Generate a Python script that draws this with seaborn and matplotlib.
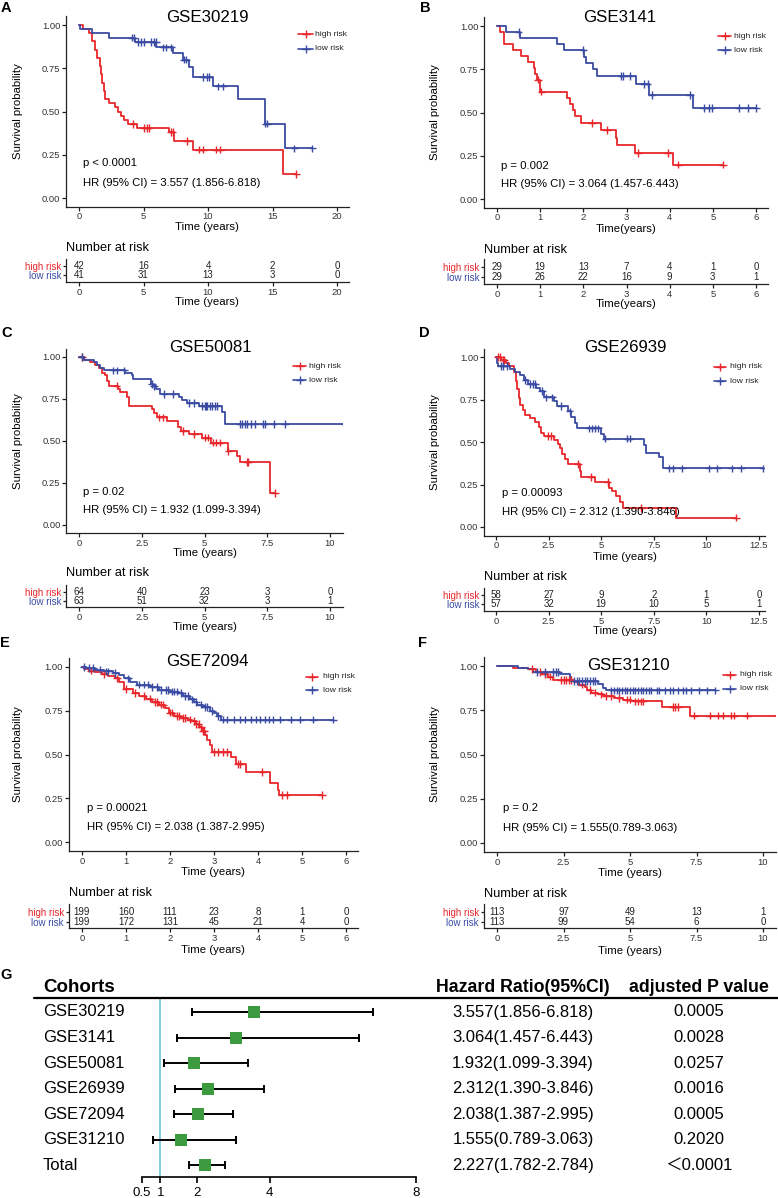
import numpy as np
import pandas as pd
import matplotlib
matplotlib.use("Agg")
import matplotlib.pyplot as plt
import seaborn as sns
from matplotlib.lines import Line2D

# ---------------- colours ----------------
RED = "#E8262B"
BLUE = "#3A4BA3"
GREEN = "#3D9A3F"
CYAN = "#72C8D8"
PAL = {"high risk": RED, "low risk": BLUE}

# ---------------- KM data ----------------
# Panel A GSE30219
A_high_t = [0.3, 0.8, 1.0, 1.25, 1.4, 1.6, 1.7, 1.82, 1.9, 2.05, 2.3, 2.8, 3.0, 3.25, 3.45, 3.8, 4.5, 6.95, 7.35, 8.85, 15.85]
A_high_s = [0.976, 0.952, 0.905, 0.857, 0.81, 0.762, 0.714, 0.667, 0.619, 0.571, 0.548, 0.524, 0.50, 0.476, 0.452, 0.429, 0.405, 0.38, 0.33, 0.28, 0.14]
A_high_c = [4.2, 5.0, 5.25, 5.4, 7.1, 7.25, 8.35, 9.3, 9.65, 10.6, 10.95, 16.85]
A_low_t = [0.1, 1.0, 2.3, 4.35, 6.0, 7.3, 8.05, 8.5, 8.8, 10.4, 12.35, 14.4, 16.0]
A_low_s = [0.976, 0.951, 0.927, 0.903, 0.87, 0.84, 0.80, 0.76, 0.70, 0.645, 0.575, 0.43, 0.287]
A_low_c = [4.1, 4.3, 4.6, 4.8, 5.0, 5.6, 5.8, 5.95, 6.5, 6.75, 7.15, 8.15, 8.3, 9.6, 9.9, 10.1, 10.8, 11.2, 14.45, 14.6, 16.7, 18.1]

# Panel B GSE3141
B_high_t = [0.08, 0.16, 0.37, 0.56, 0.72, 0.85, 0.88, 0.92, 1.0, 1.62, 1.68, 1.75, 1.8, 1.95, 2.4, 2.75, 2.78, 3.2, 4.07]
B_high_s = [0.966, 0.897, 0.862, 0.828, 0.793, 0.759, 0.724, 0.690, 0.621, 0.586, 0.552, 0.517, 0.479, 0.441, 0.398, 0.354, 0.310, 0.265, 0.199]
B_high_c = [0.95, 1.03, 2.2, 2.55, 3.27, 3.95, 4.2, 5.23]
B_low_t = [0.22, 0.54, 1.4, 1.55, 2.02, 2.06, 2.22, 2.32, 3.23, 3.53, 4.55]
B_low_s = [0.966, 0.931, 0.897, 0.862, 0.82, 0.785, 0.749, 0.71, 0.665, 0.60, 0.525]
B_low_c = [0.5, 2.0, 2.88, 2.92, 3.08, 3.4, 3.49, 3.58, 4.47, 4.8, 4.9, 4.97, 5.6, 5.82, 6.0]

# Panel C GSE50081
C_high_t = [0.2, 0.45, 0.65, 0.78, 0.92, 1.05, 1.12, 1.2, 1.55, 1.62, 1.9, 1.98, 2.9, 2.98, 3.1, 3.5, 3.95, 4.05, 4.4, 4.9, 5.25, 5.95, 6.3, 6.4, 7.6]
C_high_s = [0.984, 0.968, 0.952, 0.935, 0.905, 0.89, 0.86, 0.83, 0.81, 0.79, 0.76, 0.71, 0.69, 0.665, 0.64, 0.62, 0.585, 0.56, 0.54, 0.52, 0.49, 0.44, 0.41, 0.375, 0.19]
C_high_c = [0.12, 1.5, 3.2, 3.35, 4.15, 4.6, 5.0, 5.15, 5.35, 5.45, 5.6, 5.95, 6.7, 6.75, 7.82]
C_low_t = [0.2, 0.6, 0.7, 0.85, 1.0, 1.85, 2.1, 2.15, 2.85, 2.95, 3.05, 3.24, 4.0, 4.1, 4.3, 4.8, 5.7, 5.8]
C_low_s = [0.984, 0.968, 0.952, 0.935, 0.92, 0.905, 0.89, 0.87, 0.84, 0.825, 0.81, 0.78, 0.76, 0.745, 0.725, 0.71, 0.67, 0.60]
C_low_c = [0.1, 1.35, 1.5, 1.8, 2.9, 3.0, 3.4, 3.75, 4.4, 4.6, 4.9, 5.0, 5.05, 5.1, 5.2, 5.3, 5.4, 5.5, 6.4, 6.5, 6.6, 6.7, 6.85, 7.0, 7.35, 7.4, 7.75, 8.2, 10.6]

# Panel D GSE26939
D_high_t = [0.25, 0.48, 0.63, 0.87, 0.93, 1.0, 1.07, 1.15, 1.27, 1.4, 1.6, 1.83, 2.03, 2.14, 2.3, 2.78, 2.94, 3.06, 3.12, 3.29, 3.41, 4.0, 4.06, 4.71, 5.37, 5.5, 5.71, 5.87, 6.03, 8.55]
D_high_s = [0.983, 0.966, 0.948, 0.91, 0.86, 0.81, 0.76, 0.72, 0.69, 0.66, 0.64, 0.62, 0.59, 0.555, 0.535, 0.51, 0.49, 0.465, 0.43, 0.40, 0.37, 0.33, 0.295, 0.265, 0.23, 0.21, 0.18, 0.15, 0.11, 0.055]
D_high_c = [0.1, 0.2, 0.35, 0.4, 2.45, 2.6, 3.9, 4.5, 5.3, 6.9, 11.4]
D_low_t = [0.05, 0.1, 0.65, 0.9, 1.15, 1.35, 1.5, 1.9, 2.1, 2.3, 2.75, 2.9, 3.4, 3.55, 3.75, 3.85, 5.0, 5.15, 7.05, 7.15, 7.75, 7.95]
D_low_s = [0.965, 0.947, 0.93, 0.912, 0.895, 0.865, 0.84, 0.82, 0.80, 0.762, 0.74, 0.71, 0.68, 0.645, 0.61, 0.58, 0.545, 0.52, 0.48, 0.435, 0.41, 0.345]
D_low_c = [0.25, 0.35, 0.5, 1.4, 1.6, 1.75, 1.85, 2.2, 2.4, 2.65, 3.1, 3.5, 4.4, 4.55, 4.7, 4.85, 5.2, 6.25, 6.35, 8.2, 8.4, 8.85, 10.1, 10.5, 11.2, 11.65, 12.7]

# Panel E GSE72094
E_high_t = [0.05, 0.15, 0.3, 0.45, 0.6, 0.75, 0.85, 0.95, 1.15, 1.3, 1.45, 1.6, 1.75, 1.88, 1.97, 2.1, 2.25, 2.4, 2.5, 2.58, 2.66, 2.72, 2.8, 2.85, 2.9, 2.95, 3.38, 3.5, 3.73, 4.27, 4.45, 4.48]
E_high_s = [0.99, 0.98, 0.97, 0.96, 0.95, 0.935, 0.915, 0.875, 0.85, 0.835, 0.82, 0.80, 0.785, 0.765, 0.74, 0.72, 0.71, 0.70, 0.69, 0.675, 0.655, 0.635, 0.61, 0.585, 0.555, 0.515, 0.485, 0.445, 0.40, 0.34, 0.30, 0.27]
E_high_c = [0.2, 0.5, 0.8, 1.0, 1.2, 1.4, 1.55, 1.65, 1.7, 1.8, 1.85, 2.0, 2.05, 2.15, 2.2, 2.3, 2.35, 2.45, 2.55, 2.6, 2.65, 2.7, 2.75, 2.78, 3.0, 3.1, 3.2, 3.3, 3.55, 3.6, 4.1, 4.55, 4.65, 5.45]
E_low_t = [0.1, 0.3, 0.5, 0.7, 0.85, 0.95, 1.1, 1.25, 1.55, 1.75, 2.0, 2.2, 2.3, 2.45, 2.55, 2.62, 2.75, 2.9, 3.0, 3.07, 3.15]
E_low_s = [0.995, 0.985, 0.975, 0.965, 0.955, 0.935, 0.915, 0.90, 0.885, 0.87, 0.86, 0.85, 0.835, 0.815, 0.80, 0.785, 0.77, 0.75, 0.735, 0.72, 0.70]
E_low_c = [0.05, 0.15, 0.25, 0.4, 0.55, 0.6, 0.75, 1.05, 1.3, 1.4, 1.5, 1.6, 1.7, 1.8, 1.9, 1.95, 2.05, 2.1, 2.15, 2.25, 2.35, 2.4, 2.5, 2.6, 2.7, 2.8, 2.85, 2.95, 3.1, 3.2, 3.3, 3.45, 3.6, 3.7, 3.85, 3.95, 4.05, 4.15, 4.25, 4.35, 4.5, 4.75, 4.95, 5.25, 5.7]

# Panel F GSE31210
F_high_t = [0.6, 1.15, 1.48, 1.67, 1.92, 2.1, 2.9, 3.1, 3.3, 3.4, 3.55, 3.8, 4.0, 4.4, 4.75, 5.05, 6.2, 7.25]
F_high_s = [0.991, 0.982, 0.965, 0.955, 0.94, 0.92, 0.91, 0.895, 0.88, 0.865, 0.85, 0.84, 0.83, 0.82, 0.81, 0.80, 0.77, 0.72]
F_high_c = [1.3, 1.6, 1.8, 2.0, 2.4, 2.5, 2.6, 2.7, 2.8, 3.2, 3.5, 3.7, 3.9, 4.1, 4.3, 4.6, 4.9, 5.0, 5.2, 5.3, 5.4, 5.5, 6.6, 6.7, 6.8, 7.4, 8.0, 8.3, 8.5, 8.8, 8.9, 9.4, 10.6]
F_low_t = [0.8, 1.15, 1.35, 2.35, 2.75, 2.8, 3.8, 4.0, 4.1]
F_low_s = [0.991, 0.982, 0.965, 0.955, 0.94, 0.915, 0.90, 0.875, 0.862]
F_low_c = [1.5, 1.8, 2.1, 2.2, 2.3, 2.9, 3.0, 3.1, 3.2, 3.3, 3.4, 3.5, 3.6, 3.7, 4.3, 4.4, 4.5, 4.6, 4.7, 4.8, 4.9, 5.0, 5.1, 5.2, 5.3, 5.4, 5.5, 5.6, 5.7, 5.8, 6.0, 6.1, 6.3, 6.5, 6.6, 6.8, 7.0, 7.1, 7.3, 7.6, 7.9, 8.2]

# ---------------- risk tables ----------------
A_risk_t = [0, 5, 10, 15, 20]
A_risk_high = [42, 16, 4, 2, 0]
A_risk_low = [41, 31, 13, 3, 0]
B_risk_t = [0, 1, 2, 3, 4, 5, 6]
B_risk_high = [29, 19, 13, 7, 4, 1, 0]
B_risk_low = [29, 26, 22, 16, 9, 3, 1]
C_risk_t = [0, 2.5, 5, 7.5, 10]
C_risk_high = [64, 40, 23, 3, 0]
C_risk_low = [63, 51, 32, 3, 1]
D_risk_t = [0, 2.5, 5, 7.5, 10, 12.5]
D_risk_high = [58, 27, 9, 2, 1, 0]
D_risk_low = [57, 32, 19, 10, 5, 1]
E_risk_t = [0, 1, 2, 3, 4, 5, 6]
E_risk_high = [199, 160, 111, 23, 8, 1, 0]
E_risk_low = [199, 172, 131, 45, 21, 4, 0]
F_risk_t = [0, 2.5, 5, 7.5, 10]
F_risk_high = [113, 97, 49, 13, 1]
F_risk_low = [113, 99, 54, 6, 0]

titles = ["GSE30219", "GSE3141", "GSE50081", "GSE26939", "GSE72094", "GSE31210"]
pvals_txt = ["p < 0.0001", "p = 0.002", "p = 0.02", "p = 0.00093", "p = 0.00021", "p = 0.2"]
hr_txt = ["HR (95% CI) = 3.557 (1.856-6.818)", "HR (95% CI) = 3.064 (1.457-6.443)",
          "HR (95% CI) = 1.932 (1.099-3.394)", "HR (95% CI) = 2.312 (1.390-3.846)",
          "HR (95% CI) = 2.038 (1.387-2.995)", "HR (95% CI) = 1.555(0.789-3.063)"]
xlabels = ["Time (years)", "Time(years)", "Time (years)", "Time (years)", "Time (years)", "Time (years)"]

# ---------------- forest data ----------------
cohorts = ["GSE30219", "GSE3141", "GSE50081", "GSE26939", "GSE72094", "GSE31210", "Total"]
hr = [3.557, 3.064, 1.932, 2.312, 2.038, 1.555, 2.227]
hr_lo = [1.856, 1.457, 1.099, 1.390, 1.387, 0.789, 1.782]
hr_hi = [6.818, 6.443, 3.394, 3.846, 2.995, 3.063, 2.784]
adj_p = ["0.0005", "0.0028", "0.0257", "0.0016", "0.0005", "0.2020", "＜0.0001"]
forest_ticks = [0.5, 1, 2, 4, 8]

# ---------------- figure ----------------
sns.set_theme(style="white")
plt.rcParams["font.family"] = ["Liberation Sans", "DejaVu Sans"]
W, H = 778, 1198
fig = plt.figure(figsize=(W / 100, H / 100), dpi=100)


def add_ax(l, t, r, b):
    return fig.add_axes([l / W, 1 - b / H, (r - l) / W, (b - t) / H])


def ftext(x, y, s, **kw):
    kw.setdefault("ha", "left")
    kw.setdefault("va", "center")
    fig.text(x / W, 1 - y / H, s, **kw)


def curve(ev_t, ev_s, cens):
    t = np.r_[0.0, ev_t]
    s = np.r_[1.0, ev_s]
    end = max(max(cens), t[-1])
    if end > t[-1]:
        t = np.r_[t, end]
        s = np.r_[s, s[-1]]
    return t, s


def surv_at(ev_t, ev_s, c):
    idx = np.searchsorted(np.asarray(ev_t), np.asarray(c), side="right")
    return np.r_[1.0, ev_s][idx]


km_data = [
    (A_high_t, A_high_s, A_high_c, A_low_t, A_low_s, A_low_c),
    (B_high_t, B_high_s, B_high_c, B_low_t, B_low_s, B_low_c),
    (C_high_t, C_high_s, C_high_c, C_low_t, C_low_s, C_low_c),
    (D_high_t, D_high_s, D_high_c, D_low_t, D_low_s, D_low_c),
    (E_high_t, E_high_s, E_high_c, E_low_t, E_low_s, E_low_c),
    (F_high_t, F_high_s, F_high_c, F_low_t, F_low_s, F_low_c),
]
risk_data = [
    (A_risk_t, A_risk_high, A_risk_low),
    (B_risk_t, B_risk_high, B_risk_low),
    (C_risk_t, C_risk_high, C_risk_low),
    (D_risk_t, D_risk_high, D_risk_low),
    (E_risk_t, E_risk_high, E_risk_low),
    (F_risk_t, F_risk_high, F_risk_low),
]

# layout (pixels)
layout = [
    dict(xlim=(-1, 20.9), x0=79, ppu=12.9, y1=25, y0=198, letter=("A", 1, 8), title=(207, 17),
         ylab=18, xlab_y=227, ann=(83, 163, 183), leg=(298, 313, 315, 34, 49),
         tab=(266, 275, 282, 248, 302)),
    dict(xlim=(-0.3, 6.27), x0=497, ppu=43.17, y1=26, y0=199, letter=("B", 420, 8), title=(620, 18),
         ylab=435, xlab_y=229, ann=(501, 166, 184), leg=(718, 731, 734, 36, 50),
         tab=(267, 277, 284, 250, 304)),
    dict(xlim=(-0.5, 10.5), x0=79, ppu=25.1, y1=357, y0=525, letter=("C", 1, 333), title=(210, 348),
         ylab=18, xlab_y=553, ann=(83, 492, 510), leg=(293, 306, 309, 366, 380),
         tab=(592, 601, 607, 573, 627)),
    dict(xlim=(-0.57, 12.8), x0=496, ppu=21.04, y1=357, y0=527, letter=("D", 419, 333), title=(625, 347),
         ylab=435, xlab_y=557, ann=(502, 493, 512), leg=(714, 726, 730, 367, 381),
         tab=(595, 604, 611, 577, 631)),
    dict(xlim=(-0.3, 6.27), x0=82, ppu=44.0, y1=667, y0=842, letter=("E", 0, 643), title=(207, 661),
         ylab=18, xlab_y=872, ann=(87, 808, 827), leg=(306, 318, 323, 677, 690),
         tab=(912, 922, 928, 893, 950)),
    dict(xlim=(-0.5, 10.5), x0=497, ppu=26.6, y1=666, y0=843, letter=("F", 418, 643), title=(628, 665),
         ylab=435, xlab_y=873, ann=(503, 808, 828), leg=(723, 736, 740, 675, 689),
         tab=(912, 922, 928, 894, 951)),
]

TICK_FS = 6.8
LAB_FS = 8.2


def style_axis(ax):
    sns.despine(ax=ax)
    for sp in ("left", "bottom"):
        ax.spines[sp].set_color("#222222")
        ax.spines[sp].set_linewidth(0.9)
    ax.tick_params(axis="both", which="both", bottom=True, left=True, direction="out",
                   length=3, width=0.9, color="#222222", labelsize=TICK_FS, pad=1.2,
                   labelcolor="#333333")
    ax.set_xlabel("")
    ax.set_ylabel("")


for i, (L, K, R) in enumerate(zip(layout, km_data, risk_data)):
    ht, hs, hc, lt, ls, lc = K
    x_left = L["x0"] + L["xlim"][0] * L["ppu"]
    x_right = L["x0"] + L["xlim"][1] * L["ppu"]
    yspan = L["y0"] - L["y1"]
    y_top = L["y1"] - 0.05 * yspan
    y_bot = L["y0"] + 0.05 * yspan
    ax = add_ax(x_left, y_top, x_right, y_bot)

    t1, s1 = curve(ht, hs, hc)
    t2, s2 = curve(lt, ls, lc)
    df = pd.DataFrame({"time": np.r_[t1, t2], "surv": np.r_[s1, s2],
                       "group": ["high risk"] * len(t1) + ["low risk"] * len(t2)})
    sns.lineplot(data=df, x="time", y="surv", hue="group", palette=PAL, estimator=None,
                 sort=False, drawstyle="steps-post", lw=1.3, legend=False, ax=ax)
    cdf = pd.DataFrame({"time": np.r_[hc, lc],
                        "surv": np.r_[surv_at(ht, hs, hc), surv_at(lt, ls, lc)],
                        "group": ["high risk"] * len(hc) + ["low risk"] * len(lc)})
    sns.scatterplot(data=cdf, x="time", y="surv", hue="group", palette=PAL, marker="+",
                    s=30, linewidth=1.0, legend=False, ax=ax, zorder=3)
    ax.set_xlim(*L["xlim"])
    ax.set_ylim(-0.05, 1.05)
    rt = R[0]
    ax.set_xticks(rt)
    ax.set_xticklabels([f"{v:g}" for v in rt])
    ax.set_yticks([0, 0.25, 0.5, 0.75, 1.0])
    ax.set_yticklabels(["0.00", "0.25", "0.50", "0.75", "1.00"])
    style_axis(ax)

    cx = (x_left + x_right) / 2
    ftext(L["title"][0], L["title"][1], titles[i], ha="center", fontsize=12.2, color="black")
    ftext(L["ylab"], (y_top + y_bot) / 2, "Survival probability", ha="center",
          rotation=90, fontsize=LAB_FS, color="black")
    ftext(cx, L["xlab_y"], xlabels[i], ha="center", fontsize=LAB_FS, color="black")
    ax_x, ay1, ay2 = L["ann"]
    ftext(ax_x, ay1, pvals_txt[i], fontsize=LAB_FS, color="black")
    ftext(ax_x, ay2, hr_txt[i], fontsize=LAB_FS, color="black")
    lab, lx, ly = L["letter"]
    ftext(lx, ly, lab, fontsize=10.5, fontweight="bold", color="black")

    # legend
    l1, l2, lt_x, r1, r2 = L["leg"]
    for yy, name, col in ((r1, "high risk", RED), (r2, "low risk", BLUE)):
        fy = 1 - yy / H
        fig.add_artist(Line2D([l1 / W, l2 / W], [fy, fy], color=col, lw=1.2))
        fig.add_artist(Line2D([(l1 + l2) / 2 / W], [fy], color=col, marker="+",
                              markersize=5.5, mew=1.0, lw=0))
        ftext(lt_x, yy, name, fontsize=6.1, color="#222222")

    # risk table
    hy, ly_, axy, nar_y, time_y = L["tab"]
    step = ly_ - hy
    t_top = hy - 0.8 * step
    tax = add_ax(x_left, t_top, x_right, axy)
    tax.set_xlim(*L["xlim"])
    tax.set_ylim(-(axy - ly_) / step, 1.8)
    for tt, nh, nl in zip(R[0], R[1], R[2]):
        tax.text(tt, 1, str(nh), ha="center", va="center", fontsize=7, color="#222222")
        tax.text(tt, 0, str(nl), ha="center", va="center", fontsize=7, color="#222222")
    tax.set_xticks(R[0])
    tax.set_xticklabels([f"{v:g}" for v in R[0]])
    tax.set_yticks([1, 0])
    tax.set_yticklabels(["high risk", "low risk"])
    style_axis(tax)
    tax.tick_params(axis="y", labelsize=7, length=2.5, pad=1)
    for tl, col in zip(tax.get_yticklabels(), (RED, BLUE)):
        tl.set_color(col)
    ftext(x_left, nar_y, "Number at risk", fontsize=9.2, color="black")
    ftext(cx, time_y, xlabels[i], ha="center", fontsize=LAB_FS, color="black")

# ---------------- forest plot (G) ----------------
ftext(0, 975, "G", fontsize=10.5, fontweight="bold", color="black")
row0, rstep = 1012, 25.55
fax = add_ax(142, 998, 416, 1177)
rows = np.arange(len(cohorts))
fax.set_xlim(0.5, 8)
fax.set_ylim((1177 - row0) / rstep, (998 - row0) / rstep)
fax.axvline(1, color=CYAN, lw=1.3, zorder=1)
hr_a = np.array(hr)
fax.errorbar(hr_a, rows, xerr=[hr_a - np.array(hr_lo), np.array(hr_hi) - hr_a], fmt="none",
             ecolor="black", elinewidth=1.4, capsize=2.6, capthick=1.4, zorder=2)
sns.scatterplot(x=hr, y=rows, marker="s", s=68, color=GREEN, linewidth=0, ax=fax, zorder=3)
sns.despine(ax=fax, left=True)
fax.spines["bottom"].set_color("black")
fax.spines["bottom"].set_linewidth(1.2)
fax.set_yticks([])
fax.set_xticks(forest_ticks)
fax.set_xticklabels([f"{v:g}" for v in forest_ticks])
fax.tick_params(axis="x", bottom=True, direction="out", length=4, width=1.2, labelsize=9.5,
                pad=3, color="black", labelcolor="black")

fig.add_artist(Line2D([34 / W, 1.0], [1 - 998 / H] * 2, color="black", lw=1.6))
ftext(43, 987, "Cohorts", fontsize=13.5, fontweight="bold", color="black")
ftext(523, 987, "Hazard Ratio(95%CI)", ha="center", fontsize=12.8, fontweight="bold", color="black")
ftext(699, 987, "adjusted P value", ha="center", fontsize=12.8, fontweight="bold", color="black")
for k, (c, h, lo, hi, p) in enumerate(zip(cohorts, hr, hr_lo, hr_hi, adj_p)):
    yy = row0 + k * rstep
    ftext(43, yy, c, fontsize=12, color="black")
    ftext(523, yy, f"{h:.3f}({lo:.3f}-{hi:.3f})", ha="center", fontsize=12, color="black")
    ftext(699, yy, p, ha="center", fontsize=12, color="black",
          family=["Liberation Sans", "Noto Sans CJK SC"])

fig.savefig("out.png", dpi=100)
